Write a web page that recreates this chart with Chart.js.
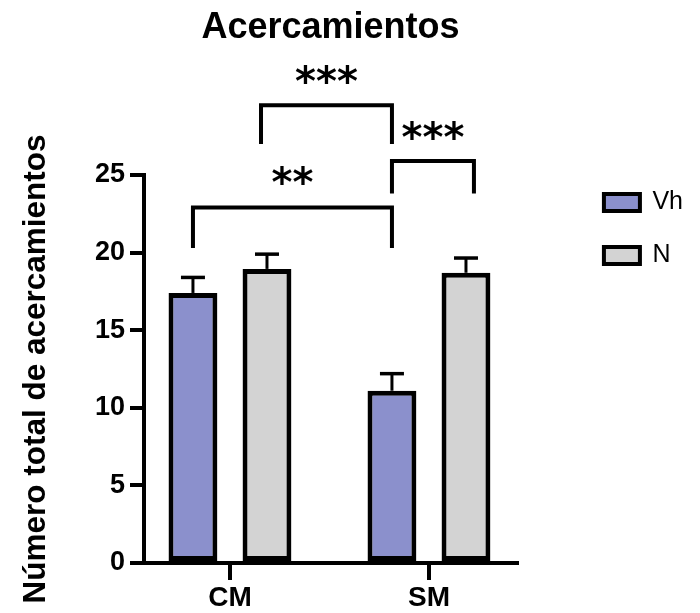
<!DOCTYPE html>
<html>
<head>
<meta charset="utf-8">
<script src="https://cdn.jsdelivr.net/npm/chart.js@4.4.1/dist/chart.umd.min.js"></script>
<style>
  html, body { margin: 0; padding: 0; background: #fff; }
  canvas { display: block; }
</style>
</head>
<body>
<canvas id="chart" width="700" height="613"></canvas>
<script>
// values
const groups   = ['CM', 'SM'];
const groupPos = [0, 1];
const vhValues = [17.4, 11.1];
const vhErrors = [1.0, 1.1];
const nValues  = [18.95, 18.7];
const nErrors  = [0.95, 0.95];

// significance brackets (x in group units, y in axis units)
const bracketFrom  = [0.156, 0.814, -0.186];
const bracketTo    = [0.814, 1.226, 0.814];
const bracketTop   = [29.5, 25.9, 22.9];
const bracketLeg   = [27.0, 23.8, 20.3];
const bracketLabel = ['***', '***', '**'];
const bracketTextY = [31.4, 27.8, 24.9];

const FONT = "'Liberation Sans', Arial, sans-serif";
Chart.defaults.font.family = FONT;
Chart.defaults.color = '#000';

// ── error bars (upper only) ─────────────────────────────────────────────
const errorBars = {
  id: 'errorBars',
  afterDatasetsDraw(chart) {
    const ctx = chart.ctx;
    const y = chart.scales.y;
    ctx.save();
    ctx.strokeStyle = '#000';
    chart.data.datasets.forEach((ds, di) => {
      chart.getDatasetMeta(di).data.forEach((bar, i) => {
        const top = y.getPixelForValue(ds.data[i].y + ds.errors[i]);
        ctx.lineWidth = 3;
        ctx.beginPath();
        ctx.moveTo(bar.x, bar.y);
        ctx.lineTo(bar.x, top);
        ctx.stroke();
        ctx.lineWidth = 3.5;
        ctx.beginPath();
        ctx.moveTo(bar.x - 12, top);
        ctx.lineTo(bar.x + 12, top);
        ctx.stroke();
      });
    });
    ctx.restore();
  }
};

// ── significance brackets ──────────────────────────────────────────────
const brackets = {
  id: 'brackets',
  afterDatasetsDraw(chart) {
    const ctx = chart.ctx;
    const {x, y} = chart.scales;
    ctx.save();
    ctx.strokeStyle = '#000';
    ctx.fillStyle = '#000';
    ctx.lineWidth = 4;
    ctx.font = "bold 40px 'DejaVu Sans'";
    ctx.textAlign = 'center';
    ctx.textBaseline = 'alphabetic';
    bracketLabel.forEach((lbl, i) => {
      const x1 = x.getPixelForValue(bracketFrom[i]);
      const x2 = x.getPixelForValue(bracketTo[i]);
      const yt = y.getPixelForValue(bracketTop[i]);
      const yl = y.getPixelForValue(bracketLeg[i]);
      ctx.beginPath();
      ctx.moveTo(x1, yl);
      ctx.lineTo(x1, yt);
      ctx.lineTo(x2, yt);
      ctx.lineTo(x2, yl);
      ctx.stroke();
      ctx.fillText(lbl, (x1 + x2) / 2, y.getPixelForValue(bracketTextY[i]) + 19);
    });
    ctx.restore();
  }
};

new Chart(document.getElementById('chart'), {
  type: 'bar',
  data: {
    datasets: [
      {
        label: 'Vh',
        data: groupPos.map((p, i) => ({x: p, y: vhValues[i]})),
        errors: vhErrors,
        backgroundColor: '#8b90cc',
        borderColor: '#000',
        borderWidth: 5,
        borderSkipped: false
      },
      {
        label: 'N',
        data: groupPos.map((p, i) => ({x: p, y: nValues[i]})),
        errors: nErrors,
        backgroundColor: '#d3d3d3',
        borderColor: '#000',
        borderWidth: 5,
        borderSkipped: false
      }
    ]
  },
  options: {
    responsive: false,
    animation: false,
    categoryPercentage: 0.744,
    barPercentage: 0.66,
    layout: { padding: { top: 0, left: 0, right: 7, bottom: 0 } },
    plugins: {
      title: {
        display: true,
        text: 'Acercamientos',
        fullSize: false,
        color: '#000',
        font: { size: 36, weight: 'bold', lineHeight: 1.2 },
        padding: { top: 6.4, bottom: 125.4 }
      },
      legend: {
        position: 'right',
        align: 'start',
        fullSize: false,
        labels: {
          boxWidth: 36,
          boxHeight: 17,
          padding: 15,
          color: '#000',
          font: { size: 25, lineHeight: 1.52 },
          generateLabels(chart) {
            return Chart.defaults.plugins.legend.labels.generateLabels(chart)
              .map(l => ({ ...l, text: [l.text], lineWidth: 4 }));
          }
        }
      },
      tooltip: { enabled: false }
    },
    scales: {
      x: {
        type: 'linear',
        min: -0.432,
        max: 1.442,
        bounds: 'data',
        offset: false,
        afterBuildTicks: s => { s.ticks = groupPos.map(v => ({ value: v })); },
        afterFit: s => { s.height = 50; },
        border: { display: true, color: '#000', width: 4 },
        grid: { display: true, offset: false, drawOnChartArea: false, color: '#000', lineWidth: 4, tickLength: 17 },
        ticks: {
          autoSkip: false,
          padding: 1,
          font: { size: 28, weight: 'bold' },
          callback: v => {
            const i = groupPos.indexOf(v);
            return i >= 0 ? groups[i] : '';
          }
        }
      },
      y: {
        min: 0,
        max: 25,
        afterFit: s => { s.width = 144; },
        border: { display: true, color: '#000', width: 4 },
        grid: { display: true, drawOnChartArea: false, color: '#000', lineWidth: 4, tickLength: 14 },
        ticks: { stepSize: 5, padding: 5, font: { size: 27, weight: 'bold' } },
        title: {
          display: true,
          text: 'Número total de acercamientos',
          color: '#000',
          font: { size: 31.5, weight: 'bold', lineHeight: 1.2 },
          padding: { top: 17, bottom: 0 }
        }
      },
      // empty right-hand spacer, keeps the legend clear of the plot
      gap: {
        type: 'linear',
        position: 'right',
        display: true,
        afterFit: s => { s.width = 72; },
        border: { display: false },
        grid: { display: false },
        ticks: { display: false }
      }
    }
  },
  plugins: [errorBars, brackets]
});
</script>
</body>
</html>
